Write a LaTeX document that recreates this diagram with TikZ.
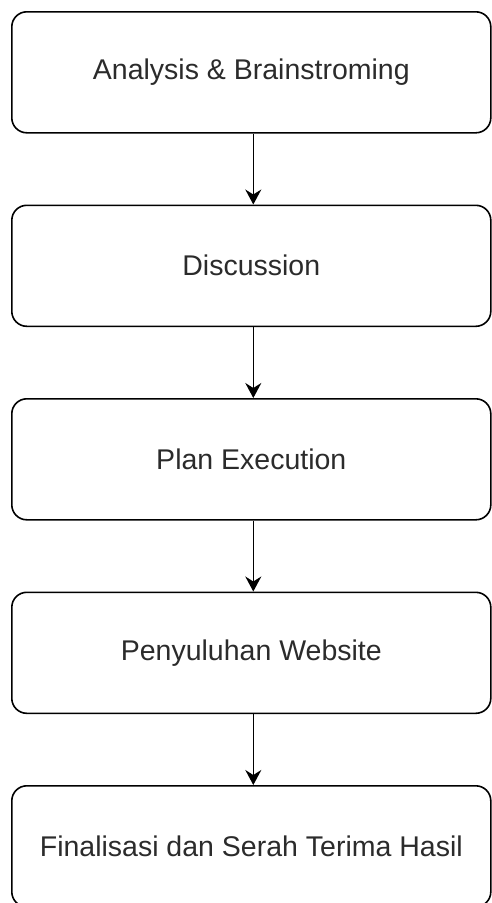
\documentclass[tikz,border=0pt]{standalone}
\usepackage{fontspec}
\setmainfont{Liberation Sans}
\usetikzlibrary{arrows.meta}
\definecolor{txt}{HTML}{2B2B2B}
\begin{document}
\begin{tikzpicture}[x=1pt,y=1pt,
  stepbox/.style={draw=black, line width=1.6pt, rounded corners=15pt, minimum width=479pt, minimum height=121pt, inner sep=0pt, text=txt, font=\fontsize{28.5}{33}\selectfont, anchor=north west},
  flow/.style={draw=black, line width=1.6pt, -{Stealth[length=15pt,width=16pt,inset=5pt]}}]
\useasboundingbox (0,0) rectangle (491,-903);
\node[stepbox] (a) at (11,-11) {Analysis \& Brainstroming};
\node[stepbox] (b) at (11,-204.5) {Discussion};
\node[stepbox] (c) at (11,-398) {Plan Execution};
\node[stepbox] (d) at (11,-591.5) {Penyuluhan Website};
\node[stepbox] (e) at (11,-785) {Finalisasi dan Serah Terima Hasil};
\draw[flow] ([xshift=2pt]a.south) -- ([xshift=2pt]b.north);
\draw[flow] ([xshift=2pt]b.south) -- ([xshift=2pt]c.north);
\draw[flow] ([xshift=2pt]c.south) -- ([xshift=2pt]d.north);
\draw[flow] ([xshift=2pt]d.south) -- ([xshift=2pt]e.north);
\end{tikzpicture}
\end{document}
